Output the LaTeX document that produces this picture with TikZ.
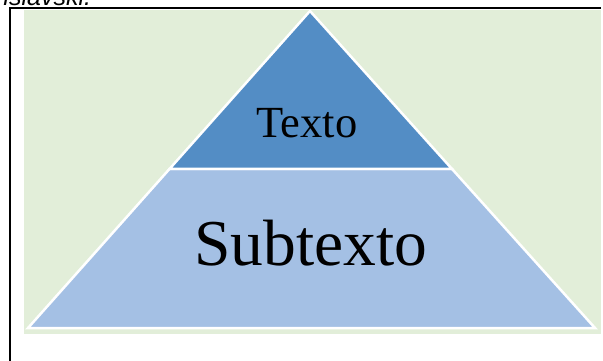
\documentclass[tikz,border=0pt]{standalone}
\usepackage{fontspec}
\usetikzlibrary{calc}
\setmainfont{Liberation Serif}
\newfontfamily\capfont{Liberation Sans}
\definecolor{bggreen}{HTML}{E2EED9}
\definecolor{darkblue}{HTML}{538DC5}
\definecolor{lightblue}{HTML}{A4C0E4}
\tikzset{
  tier/.style={draw=white, line width=2.5pt, line join=miter},
  frameline/.style={draw=black, line width=2.2pt},
  label/.style={inner sep=0pt, anchor=base, text=black}
}
\begin{document}
\begin{tikzpicture}[x=1pt,y=-1pt]
\useasboundingbox (0,0) rectangle (603,360);
\clip (0,0) rectangle (603,360);
\fill[white] (0,0) rectangle (603,360);
% cut-off caption text
\node[inner sep=0pt, anchor=base west, font=\capfont\itshape\fontsize{25}{30}\selectfont] (cap) at (-5,5.5) {nslavski.};
% frame
\coordinate (ftl) at (10,8);
\coordinate (fbl) at (10,370);
\coordinate (ftr) at (601,8);
\draw[frameline] (fbl) -- (ftl) -- (ftr);
% background
\fill[bggreen] (24,10) rectangle (601,334);
% pyramid
\coordinate (apex) at (310,11);
\coordinate (bl) at (28,328);
\coordinate (br) at (595,328);
\coordinate (ml) at ($(apex)!0.4984!(bl)$);
\coordinate (mr) at ($(apex)!0.4984!(br)$);
\filldraw[tier, fill=lightblue] (ml) -- (mr) -- (br) -- (bl) -- cycle;
\filldraw[tier, fill=darkblue] (apex) -- (mr) -- (ml) -- cycle;
\node[label, font=\fontsize{44.5}{50}\selectfont] (texto) at (307,137) {Texto};
\node[label, font=\fontsize{65.5}{72}\selectfont] (subtexto) at (311,265) {Subtexto};
\end{tikzpicture}
\end{document}
